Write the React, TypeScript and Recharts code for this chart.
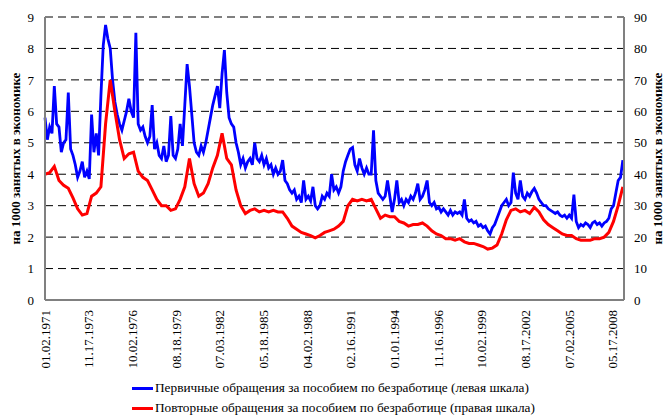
import { LineChart, Line, XAxis, YAxis, CartesianGrid } from "recharts";

const FONT = '"Times New Roman", "Liberation Serif", "DejaVu Serif", serif';

// weekly series, read every 8 weeks (initial) / 16 weeks (continuing) from 01.02.1971
const WEEK_STEP = 8;
const LAST_WEEK = 1988;
const TICK_EVERY = 150;

const dateLabels = [
  "01.02.1971", "11.17.1973", "10.02.1976", "08.18.1979", "07.03.1982",
  "05.18.1985", "04.02.1988", "02.16.1991", "01.01.1994", "11.16.1996",
  "10.02.1999", "08.17.2002", "07.02.2005", "05.17.2008",
];

const leftTicks = [0, 1, 2, 3, 4, 5, 6, 7, 8, 9];
const rightTicks = [0, 10, 20, 30, 40, 50, 60, 70, 80, 90];

// первичные обращения, левая шкала
const initialClaims = [
  5.8, 5.1, 5.5, 5.3, 6.8, 5.6, 5.5, 4.7, 5.0, 5.1,
  6.6, 4.8, 4.6, 4.3, 3.9, 4.1, 4.4, 3.9, 4.1, 3.85,
  5.9, 4.7, 5.3, 4.6, 6.5, 8.1, 8.75, 8.3, 8.0, 7.0,
  6.3, 5.9, 5.6, 5.4, 5.7, 6.0, 6.4, 6.0, 5.8, 8.5,
  5.6, 5.4, 5.5, 5.2, 5.0, 5.2, 6.2, 4.8, 5.0, 4.6,
  4.5, 4.9, 4.4, 4.6, 5.85, 4.6, 4.5, 4.8, 5.6, 4.9,
  6.2, 7.5, 6.8, 5.9, 5.0, 4.7, 4.6, 4.9, 4.7, 5.0,
  5.4, 5.8, 6.2, 6.5, 6.8, 6.1, 7.2, 7.95, 6.6, 5.8,
  5.6, 5.5, 5.0, 4.7, 4.3, 4.5, 4.2, 4.4, 4.5, 4.3,
  5.0, 4.5, 4.4, 4.6, 4.3, 4.5, 4.2, 4.3, 4.0, 4.2,
  4.0, 4.1, 4.45, 3.8, 3.7, 3.5, 3.4, 3.5, 3.2, 3.3,
  3.1, 3.8, 3.2, 3.3, 3.15, 3.6, 3.0, 2.9, 3.0, 3.3,
  3.2, 3.4, 3.3, 4.0, 3.5, 3.6, 3.4, 3.6, 4.1, 4.4,
  4.6, 4.8, 4.85, 4.3, 4.1, 4.5, 4.2, 4.0, 4.2, 4.0,
  4.0, 5.4, 3.8, 3.4, 3.3, 3.2, 3.3, 3.8, 3.3, 2.8,
  3.2, 3.8, 3.1, 3.2, 3.0, 3.2, 3.1, 3.3, 3.2, 3.4,
  3.7, 3.2, 3.3, 3.5, 3.8, 3.1, 3.0, 3.1, 2.9, 2.95,
  2.8, 2.9, 2.8, 2.7, 2.85, 2.7, 2.8, 2.75, 2.8, 2.7,
  3.2, 2.6, 2.5, 2.55, 2.45, 2.5, 2.35, 2.4, 2.3, 2.35,
  2.2, 2.1, 2.3, 2.4, 2.6, 2.8, 3.0, 3.1, 3.2, 3.0,
  3.1, 4.05, 3.4, 3.2, 3.8, 3.3, 3.2, 3.4, 3.3, 3.45,
  3.55, 3.4, 3.2, 3.1, 3.0, 3.0, 2.9, 2.85, 2.8, 2.75,
  2.8, 2.7, 2.65, 2.7, 2.6, 2.7, 2.6, 3.35, 2.5, 2.3,
  2.4, 2.35, 2.45, 2.4, 2.3, 2.45, 2.5, 2.4, 2.45, 2.35,
  2.45, 2.5, 2.6, 2.9, 3.0, 3.4, 3.8, 3.9, 4.45,
];

// повторные обращения, правая шкала
const continuingClaims = [
  40, 40.5, 42.5, 38, 36.5, 35.5, 32.5, 29, 27, 27.5,
  33, 34, 36, 56, 70, 60, 51, 45, 46.5, 47,
  41, 39, 38, 35, 32, 30, 30, 28.5, 29, 32,
  36, 45, 37, 33, 34, 37, 42, 46, 53, 45,
  43, 35, 30, 27.5, 28.5, 29, 28, 28.5, 28, 28.5,
  28, 28, 26, 23.5, 22.5, 21.5, 21, 20.5, 19.8, 20.5,
  21.5, 22, 22.5, 23.5, 25, 30, 32, 31.5, 32, 31.5,
  32, 29, 26, 27, 26.5, 26.5, 25, 24.5, 23.5, 24,
  24, 24.5, 23.5, 22, 21, 20.5, 19.5, 19.5, 19, 19.5,
  18.5, 18, 18, 17.5, 17, 16.2, 16.5, 17.5, 21, 25.5,
  28.5, 29, 28, 28.5, 27.5, 29.5, 28, 25.5, 24, 23,
  22, 21, 20.5, 20.5, 19.5, 19, 19, 19, 19.5, 19.5,
  20, 21.5, 25, 30, 36,
];

const dateTicks = dateLabels.map((_, k) => k * TICK_EVERY);

const data = initialClaims.map((v, i) => ({
  week: i * WEEK_STEP,
  initial: v,
  continuing: i % 2 === 0 ? continuingClaims[i / 2] : null,
}));

function DateTick({ x, y, payload }: any) {
  const label = dateLabels[Math.round(payload.value / TICK_EVERY)];
  return (
    <text
      x={x}
      y={y}
      transform={`rotate(-90 ${x} ${y})`}
      textAnchor="end"
      dy="0.35em"
      fontSize={13}
      fontFamily={FONT}
      fill="#000"
    >
      {label}
    </text>
  );
}

function AxisTitle({ viewBox, side }: any) {
  const { x, y, width, height } = viewBox;
  const cx = side === "left" ? x + 7 : x + width + 3;
  const cy = y + height / 2;
  return (
    <text
      x={cx}
      y={cy}
      transform={`rotate(-90 ${cx} ${cy})`}
      textAnchor="middle"
      dy="0.35em"
      fontSize={13}
      fontWeight="bold"
      fontFamily={FONT}
      fill="#000"
    >
      на 1000 занятых в экономике
    </text>
  );
}

const legendItems = [
  { name: "Первичные обращения за пособием по безработице (левая шкала)", color: "#0000FF" },
  { name: "Повторные обращения за пособием по безработице (правая шкала)", color: "#FF0000" },
];

export default function App() {
  const tickStyle = { fontSize: 13, fill: "#000", fontFamily: FONT };
  const axisLine = { stroke: "#808080", strokeWidth: 2 };
  return (
    <div style={{ position: "absolute", left: 0, top: 0, width: 665, height: 417, background: "#fff" }}>
      <LineChart width={665} height={417} data={data} margin={{ top: 17, right: 11, bottom: 0, left: 8 }}>
        <CartesianGrid
          yAxisId="left"
          vertical={false}
          stroke="#000"
          strokeDasharray="8 5"
        />
        <XAxis
          dataKey="week"
          type="number"
          domain={[0, LAST_WEEK]}
          ticks={dateTicks}
          tick={DateTick as any}
          tickLine={false}
          tickMargin={4}
          interval={0}
          height={117}
          axisLine={axisLine}
        />
        <YAxis
          yAxisId="left"
          domain={[0, 9]}
          ticks={leftTicks}
          interval={0}
          width={37}
          tick={tickStyle}
          tickLine={false}
          tickMargin={5}
          axisLine={axisLine}
          label={<AxisTitle side="left" />}
        />
        <YAxis
          yAxisId="right"
          orientation="right"
          domain={[0, 90]}
          ticks={rightTicks}
          interval={0}
          width={30}
          tick={{ ...tickStyle, textAnchor: "start" }}
          tickLine={false}
          tickMargin={4}
          axisLine={axisLine}
          label={<AxisTitle side="right" />}
        />
        <Line
          yAxisId="left"
          dataKey="initial"
          type="linear"
          stroke="#0000FF"
          strokeWidth={2.8}
          dot={false}
          isAnimationActive={false}
        />
        <Line
          yAxisId="right"
          dataKey="continuing"
          type="linear"
          stroke="#FF0000"
          strokeWidth={3}
          dot={false}
          connectNulls
          isAnimationActive={false}
        />
      </LineChart>
      <div style={{ position: "absolute", left: 132, top: 378, fontFamily: FONT, fontSize: 13.3, color: "#000" }}>
        {legendItems.map((item) => (
          <div key={item.name} style={{ height: 20, lineHeight: "20px", whiteSpace: "nowrap" }}>
            <span
              style={{
                display: "inline-block",
                width: 21,
                height: 3,
                background: item.color,
                verticalAlign: "middle",
                marginRight: 2,
              }}
            />
            {item.name}
          </div>
        ))}
      </div>
    </div>
  );
}
